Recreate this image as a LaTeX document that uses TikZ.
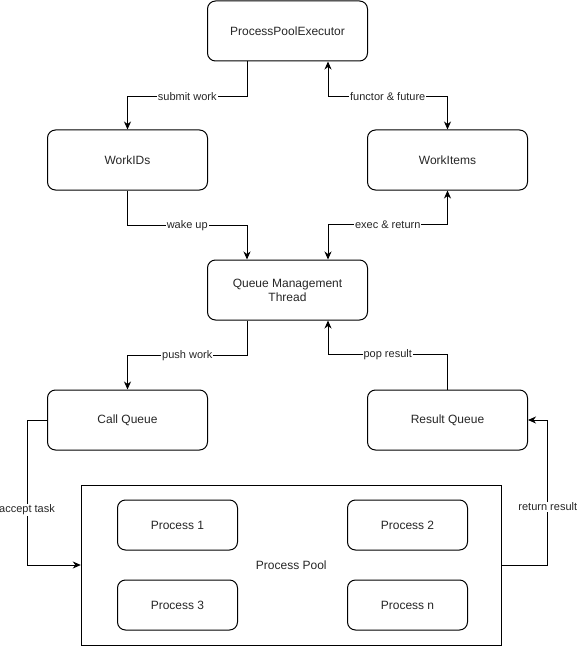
\documentclass[tikz,border=0pt]{standalone}
\usepackage{fontspec}
\setmainfont{Liberation Sans}
\usepackage{xcolor}
\usepackage{tikz}
\usetikzlibrary{math,arrows.meta}

\begin{document}
\begin{tikzpicture}[x=1pt,y=-1pt,line width=1pt,
	box/.style={draw,rounded corners=8pt,minimum width=160pt,minimum height=60pt,align=center,text=black!85,font=\fontsize{12}{14}\selectfont},
	proc/.style={box,minimum width=120pt,minimum height=50pt},
	poolbox/.style={draw,minimum width=420pt,minimum height=160pt,text=black!85,font=\fontsize{12}{14}\selectfont},
	lbl/.style={fill=white,inner sep=1pt,text=black!85,font=\fontsize{11}{13}\selectfont},
	arr/.style={-{Stealth[length=8pt,width=7pt,inset=2.5pt]}},
	darr/.style={{Stealth[length=8pt,width=7pt,inset=2.5pt]}-{Stealth[length=8pt,width=7pt,inset=2.5pt]}}]
\useasboundingbox (0,0) rectangle (577,647);
\tikzmath{
	\lx = 127.5;\mx = 287.5;\rx = 447.5;
	\dx = 40;\dy = 35;
	{\node[box] (ppe) at (\mx,31) {ProcessPoolExecutor};};
	{\node[box] (ids) at (\lx,160) {WorkIDs};};
	{\node[box] (items) at (\rx,160) {WorkItems};};
	{\node[box] (qmt) at (\mx,290) {Queue Management\\Thread};};
	{\node[box] (callq) at (\lx,420) {Call Queue};};
	{\node[box] (resq) at (\rx,420) {Result Queue};};
	%
	{\node[poolbox] (pool) at (291.3,565) {Process Pool};};
	{\node[proc] (p1) at (177.5,525) {Process 1};};
	{\node[proc] (p2) at (407.5,525) {Process 2};};
	{\node[proc] (p3) at (177.5,605) {Process 3};};
	{\node[proc] (pn) at (407.5,605) {Process n};};
	%
	{\draw[arr] ([xshift=\dx]ppe.south west) -- ++(0,\dy) -| node[lbl,pos=0.25]{submit work} (ids.north);};
	{\draw[darr] ([xshift=-\dx]ppe.south east) -- ++(0,\dy) -| node[lbl,pos=0.25]{functor \& future} (items.north);};
	{\draw[arr] (ids.south) -- ++(0,\dy) -| node[lbl,pos=0.25]{wake up} ([xshift=\dx]qmt.north west);};
	{\draw[darr] ([xshift=-\dx]qmt.north east) -- ++(0,-\dy) -| node[lbl,pos=0.25]{exec \& return} (items.south);};
	{\draw[arr] ([xshift=\dx]qmt.south west) -- ++(0,\dy) -| node[lbl,pos=0.25]{push work} (callq.north);};
	{\draw[arr] (resq.north) -- ++(0,-\dy) -| node[lbl,pos=0.25]{pop result} ([xshift=-\dx]qmt.south east);};
	%
	{\draw[arr] (callq.west) -- ++(-20,0) |- node[lbl,pos=0.31]{accept task} (pool.west);};
	{\draw[arr] (pool.east) -- ++(46,0) |- node[lbl,pos=0.2]{return result} (resq.east);};
};
\end{tikzpicture}
\end{document}
